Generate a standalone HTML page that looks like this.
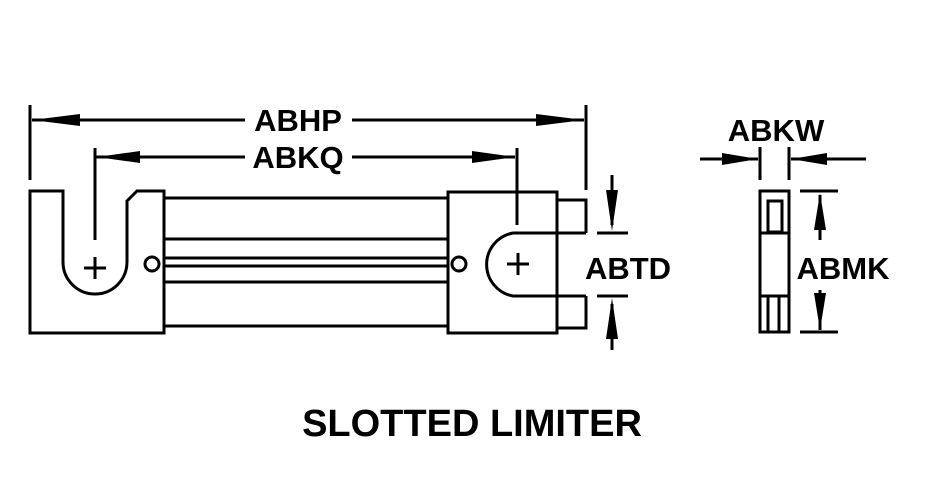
<!DOCTYPE html>
<html><head><style>body{margin:0;background:#fff}</style></head><body>
<svg width="939" height="493" viewBox="0 0 939 493" xmlns="http://www.w3.org/2000/svg" font-family="Liberation Sans, Arial, sans-serif" font-weight="bold">
<g fill="none" stroke="#000" stroke-width="3">
<path d="M30 191 H63 V262 A32 32 0 0 0 127 262 V201 L137 191 H164 V333 H30 Z"/>
<path d="M84 268 H106 M95 257 V279"/>
<path d="M95 148 V240"/>
<path d="M164 198 H448 M164 239 H448 M164 258 H448 M164 266 H448 M164 282 H448 M164 326 H448"/>
<path d="M448 192 H557 V333 H448 Z" fill="#fff"/>
<circle cx="152" cy="264" r="7" fill="#fff"/>
<circle cx="459" cy="264" r="7" fill="#fff"/>
<path d="M586 233 H513 A32 32 0 0 0 513 296 H586"/>
<path d="M557 200 H586 V233 M557 328 H586 V296"/>
<path d="M507 264 H529 M518 253 V275"/>
<path d="M517 148 V225"/>
<path d="M30 105 V180 M586 105 V190"/>
<path d="M32 120 H245 M352 120 H584"/>
<path d="M95 157 H245 M352 157 H515"/>
<path d="M597 233 H628 M597 296 H628 M612 175 V225 M612 304 V350"/>
<rect x="760" y="191" width="29" height="141"/>
<rect x="768" y="201" width="14" height="31"/>
<path d="M760 233 H789 M760 296 H789 M768 296 V332 M779 296 V332"/>
<path d="M760 147 V180 M789 147 V180"/>
<path d="M700 159 H758 M791 159 H866"/>
<path d="M800 191 H838 M800 332 H838 M820 195 V240 M820 290 V330"/>
</g>
<g fill="#000">
<polygon points="32,120 80,114 80,126"/>
<polygon points="584,120 536,114 536,126"/>
<polygon points="97,157 140,151 140,163"/>
<polygon points="515,157 472,151 472,163"/>
<polygon points="612,231 606,190 618,190"/>
<polygon points="612,298 606,339 618,339"/>
<polygon points="758,159 722,153 722,165"/>
<polygon points="791,159 827,153 827,165"/>
<polygon points="820,193 814,230 826,230"/>
<polygon points="820,330 814,293 826,293"/>
</g>
<g font-size="31" fill="#000">
<text x="298" y="131" text-anchor="middle">ABHP</text>
<text x="298" y="168" text-anchor="middle">ABKQ</text>
<text x="628" y="279" text-anchor="middle">ABTD</text>
<text x="776" y="141" text-anchor="middle">ABKW</text>
<text x="843" y="279" text-anchor="middle">ABMK</text>
<text x="472" y="436" text-anchor="middle" font-size="38">SLOTTED LIMITER</text>
</g>
</svg>
</body></html>
